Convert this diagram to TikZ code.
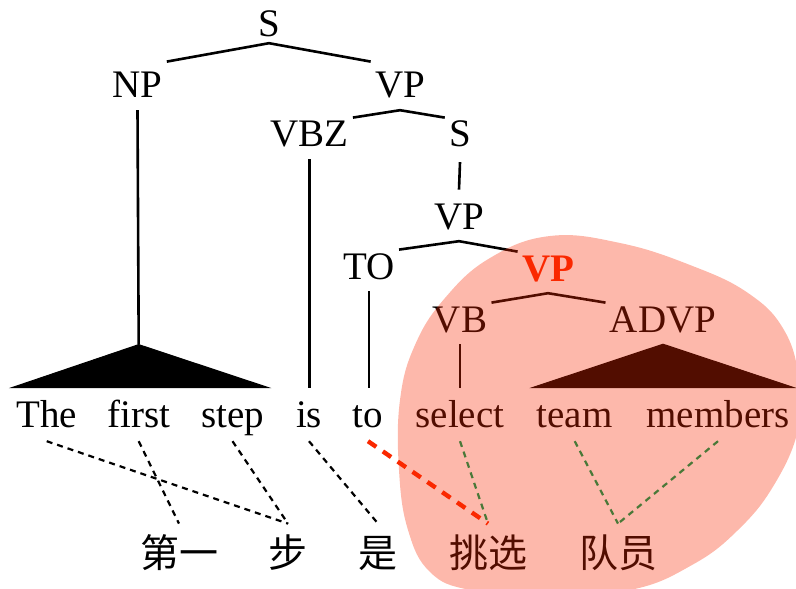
\documentclass[tikz,border=0pt]{standalone}
\usepackage{fontspec}
\setmainfont{Liberation Serif}
\newfontfamily\cjk{Noto Sans CJK SC}
\usepackage{tikz}
\usetikzlibrary{positioning,calc}
\definecolor{hlred}{RGB}{250,40,0}
\definecolor{algngreen}{RGB}{74,120,56}
\def\fs{\fontsize{19.5}{23}\selectfont}
\tikzstyle{cat} = [font=\fs, inner sep=2pt, text height=12.5pt, text depth=3.9pt, anchor=base]
\tikzstyle{word} = [font=\fs, inner sep=2pt, text height=17.5pt, text depth=4.9pt, anchor=base]
\tikzstyle{zh} = [font=\fs\cjk, inner sep=2pt, text height=19.5pt, text depth=2.9pt, anchor=base]
\tikzstyle{branch} = [line width=1.3pt]
\tikzstyle{tri} = [fill=black, draw=black, line width=0.5pt, line join=miter]
\tikzstyle{algn} = [line width=1.1pt, dash pattern=on 3pt off 2.5pt]
\tikzstyle{keyalgn} = [line width=2.2pt, dash pattern=on 5pt off 4pt, draw=hlred]
\tikzstyle{focus} = [fill=hlred, fill opacity=0.33]
\def\wy{427}
\def\zy{567}
\def\apex{21.5pt}

\begin{document}
\begin{tikzpicture}[x=0.5pt, y=-0.5pt]
\useasboundingbox (0,0) rectangle (796,588);

% tree
\node (S) [cat] at (269,37) {S};
\node (NP) [cat] at (137.5,98) {NP};
\node (VP) [cat] at (400,98) {VP};
\node (VBZ) [cat] at (309.5,147) {VBZ};
\node (S2) [cat] at (460,147) {S};
\node (VP2) [cat] at (459,229) {VP};
\node (TO) [cat] at (369,279) {TO};
\node (VP3) [cat, font=\fs\bfseries, text=hlred] at (548,281) {VP};
\node (VB) [cat] at (460,332) {VB};
\node (ADVP) [cat] at (663,332) {ADVP};

\draw [branch] ([yshift=3.5pt]NP.north east) -- ([yshift=3pt]S.south) -- ([yshift=3.5pt]VP.north west);
\draw [branch] (VBZ.north east) -- (VP.south) -- (S2.north west);
\draw [branch] ([yshift=-1.5pt]S2.south) -- ([yshift=5pt]VP2.north);
\draw [branch] (TO.north east) -- (VP2.south) -- (VP3.north west);
\draw [branch] (VB.north east) -- (VP3.south) -- (ADVP.north west);

% sentence
\node (The) [word] at (46.7,\wy) {The};
\node (first) [word] at (138.7,\wy) {first};
\node (step) [word] at (232.5,\wy) {step};
\node (is) [word] at (309,\wy) {is};
\node (to) [word] at (368,\wy) {to};
\node (select) [word] at (460,\wy) {select};
\node (team) [word] at (574.7,\wy) {team};
\node (members) [word] at (718,\wy) {members};

\coordinate (NPtop) at ([yshift=\apex]first.north);
\draw [branch] (NP.south) -- (NPtop);
\draw [tri] (The.north west) -- (NPtop) -- (step.north east) -- cycle;
\draw [branch] (VBZ.south) -- (VBZ.south |- is.north);
\draw [branch] (TO.south) -- (TO.south |- to.north);
\draw [branch] (VB.south) -- (VB.south |- select.north);
\draw [tri] (team.north west) -- (ADVP.south) -- (members.north east) -- cycle;

% translation
\node (diyi) [zh] at (179,\zy) {第一};
\node (bu) [zh] at (288,\zy) {步};
\node (shi) [zh] at (378,\zy) {是};
\node (tiaoxuan) [zh] at (488,\zy) {挑选};
\node (duiyuan) [zh] at (618,\zy) {队员};

\draw [algn] (The.south) -- (bu.north);
\draw [algn] (first.south) -- (diyi.north);
\draw [algn] (step.south) -- (bu.north);
\draw [algn] (is.south) -- (shi.north);
\draw [keyalgn] (to.south) -- (tiaoxuan.north);

% highlighted subtree
\fill [focus] plot [smooth cycle, tension=0.7] coordinates {
  (550,236) (620,243) (690,265) (748,293) (784,330) (799,380) (798,430)
  (774,485) (738,530) (692,565) (630,590) (540,596) (470,590) (430,572)
  (408,530) (399,470) (400,400) (415,345) (445,298) (490,258)};

\draw [algn, draw=algngreen] (select.south) -- (tiaoxuan.north);
\draw [algn, draw=algngreen] (team.south) -- (duiyuan.north);
\draw [algn, draw=algngreen] (members.south) -- (duiyuan.north);
\end{tikzpicture}
\end{document}
